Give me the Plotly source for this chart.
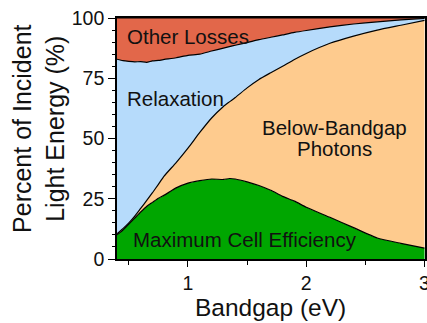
import numpy as np
import plotly.graph_objects as go

# Bandgap grid (eV)
bandgap = [0.40, 0.45, 0.50, 0.55, 0.60, 0.65, 0.70, 0.75, 0.80, 0.90, 1.00,
           1.10, 1.20, 1.30, 1.35, 1.40, 1.50, 1.60, 1.70, 1.80, 1.90, 2.00,
           2.20, 2.40, 2.60, 2.80, 3.00]

# Cumulative levels (% of incident light energy)
efficiency_level = [10.0, 12.0, 14.5, 17.0, 19.5, 21.8, 23.5, 25.2, 26.5, 29.5, 31.5,
                    32.5, 33.2, 33.0, 33.4, 33.2, 32.0, 30.5, 28.5, 26.0, 24.0, 21.5,
                    17.3, 13.0, 8.7, 6.5, 4.5]
below_gap_level = [10.5, 12.6, 15.0, 17.8, 21.0, 24.2, 27.5, 31.0, 34.5, 40.0, 46.0,
                   52.5, 58.5, 63.3, 65.2, 67.0, 71.0, 74.5, 77.3, 80.0, 82.8, 85.3,
                   89.5, 92.5, 95.0, 97.0, 99.0]
relaxation_level = [82.9, 82.3, 82.0, 81.8, 81.9, 81.6, 82.2, 82.4, 82.8, 83.5, 84.5,
                    85.0, 86.3, 87.5, 88.1, 88.7, 89.8, 91.0, 92.0, 93.0, 94.0, 94.8,
                    96.3, 97.5, 98.4, 99.2, 99.8]

# Individual shares derived from the cumulative levels
max_efficiency = np.array(efficiency_level)
below_bandgap = np.array(below_gap_level) - max_efficiency
relaxation = np.array(relaxation_level) - np.array(below_gap_level)
other_losses = 100.0 - np.array(relaxation_level)

series = [
    ("Maximum Cell Efficiency", max_efficiency, "#00A600"),
    ("Below-Bandgap Photons", below_bandgap, "#FECB8E"),
    ("Relaxation", relaxation, "#B6DBFB"),
    ("Other Losses", other_losses, "#E2674A"),
]

fig = go.Figure()
for name, vals, color in series:
    fig.add_trace(go.Scatter(
        x=bandgap, y=vals, name=name, mode="lines", stackgroup="one",
        fillcolor=color, line=dict(color="black", width=1.2, shape="spline", smoothing=0.5),
        hoverinfo="skip",
    ))

font_family = "Liberation Sans, Arial, sans-serif"
txt = "#111111"

fig.update_layout(
    width=427, height=323,
    margin=dict(l=117, r=2, t=18, b=64, autoexpand=False),
    paper_bgcolor="white", plot_bgcolor="white",
    showlegend=False,
    font=dict(family=font_family, color=txt),
    xaxis=dict(
        range=[0.4, 3.004], tickvals=[1, 2, 3], ticks="outside", ticklen=6, tickwidth=1.3,
        tickcolor="black", showline=True, linecolor="black", linewidth=1.6, mirror=True,
        showgrid=False, zeroline=False, tickfont=dict(size=19.5, color=txt),
        ticklabeloverflow="allow", automargin=False,
        minor=dict(tickvals=[0.5, 1.5, 2.5], ticks="outside", ticklen=4, tickcolor="black"),
    ),
    yaxis=dict(
        range=[0, 100], tickvals=[0, 25, 50, 75, 100], ticks="outside", ticklen=7, tickwidth=1.3,
        tickcolor="black", showline=True, linecolor="black", linewidth=1.6, mirror=True,
        showgrid=False, zeroline=False, tickfont=dict(size=19.5, color=txt),
        automargin=False,
        minor=dict(dtick=5, ticks="outside", ticklen=3, tickcolor="black"),
    ),
)

label_font = dict(family=font_family, size=20.5, color=txt)
annotations = [
    dict(x=0.468, y=92.5, text="Other Losses", xanchor="left"),
    dict(x=0.468, y=66.8, text="Relaxation", xanchor="left"),
    dict(x=2.24, y=54.5, text="Below-Bandgap", xanchor="center"),
    dict(x=2.24, y=45.8, text="Photons", xanchor="center"),
    dict(x=1.48, y=8.3, text="Maximum Cell Efficiency", xanchor="center"),
]
for a in annotations:
    fig.add_annotation(xref="x", yref="y", showarrow=False, yanchor="middle",
                       font=label_font, **a)

# Axis titles
fig.add_annotation(xref="paper", yref="paper", x=0.497, y=-0.2, showarrow=False,
                   text="Bandgap (eV)", xanchor="center", yanchor="middle",
                   font=dict(family=font_family, size=24.5, color=txt))
fig.add_annotation(xref="paper", yref="paper", x=-0.253, y=0.54, showarrow=False,
                   text="Percent of Incident<br>Light Energy (%)", textangle=-90,
                   xanchor="center", yanchor="middle",
                   font=dict(family=font_family, size=25, color=txt))

fig.write_html("out.html")
